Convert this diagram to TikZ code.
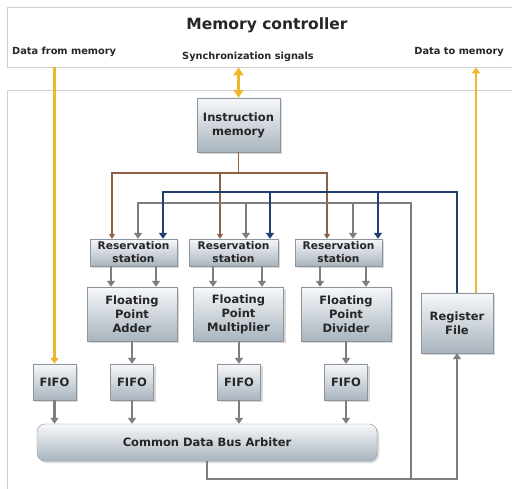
\documentclass[tikz,border=0pt]{standalone}
\usepackage{fontspec}
\setmainfont{DejaVu Sans}
\usetikzlibrary{arrows.meta,shadows}
\definecolor{boxtop}{HTML}{F6F8FA}
\definecolor{boxbot}{HTML}{A9B4BE}
\definecolor{boxline}{HTML}{8C959D}
\definecolor{frameline}{HTML}{CFCFCF}
\definecolor{goldline}{HTML}{F0B52A}
\definecolor{brownline}{HTML}{8E6044}
\definecolor{blueline}{HTML}{213F6F}
\definecolor{greyline}{HTML}{7E7E7E}
\tikzset{
    unit/.style={draw=boxline, top color=boxtop, bottom color=boxbot, drop shadow={opacity=0.3, shadow xshift=2pt, shadow yshift=-2pt}, align=center, inner sep=0pt, font=\fontsize{11.5}{14}\selectfont\bfseries, text=black!85},
    frame/.style={draw=frameline, fill=white, inner sep=0pt},
    caption/.style={font=\fontsize{9.8}{11}\selectfont\bfseries, text=black!85, inner sep=0pt},
    goldwire/.style={draw=goldline, line width=2.6pt, -{Triangle[width=8pt,length=6pt]}},
    brownwire/.style={draw=brownline, line width=1.6pt, -{Triangle[width=6pt,length=5pt]}},
    bluewire/.style={draw=blueline, line width=2.4pt, -{Triangle[width=8pt,length=6pt]}},
    greywire/.style={draw=greyline, line width=2.6pt, -{Triangle[width=8pt,length=6pt]}},
}
\begin{document}
\begin{tikzpicture}[x=1pt, y=-1pt]
    \useasboundingbox (0,0) rectangle (512,489);
    \node[frame, anchor=north west, minimum width=520pt, minimum height=60pt] (mcbox) at (7,7) {};
    \node[frame, anchor=north west, minimum width=520pt, minimum height=420pt] (lowbox) at (7,90) {};
    \node[font=\fontsize{15.5}{18}\selectfont\bfseries, text=black!85] (mctitle) at (267,25) {Memory controller};
    \node[caption, anchor=west] (fromlbl) at (12,52) {Data from memory};
    \node[caption] (synclbl) at (248,57) {Synchronization signals};
    \node[caption, anchor=east] (tolbl) at (504,52) {Data to memory};

    \node[unit, minimum width=83pt, minimum height=54pt] (im) at (238.5,125) {Instruction\\memory};
    \foreach \n/\x/\w in {1/133.5/87, 2/233.5/89, 3/338.5/87} {
        \node[unit, font=\fontsize{10.6}{13}\selectfont\bfseries, minimum width=\w pt, minimum height=27pt] (rs\n) at (\x,252.5) {Reservation\\station};
    };
    \foreach \n/\x/\t in {1/132/Adder, 2/238.5/Multiplier, 3/346/Divider} {
        \node[unit, minimum width=90pt, minimum height=54pt] (fp\n) at (\x,314) {Floating\\Point\\\t};
    };
    \foreach \n/\x in {0/54.5, 1/132, 2/239, 3/346} {
        \node[unit, minimum width=43pt, minimum height=36pt] (fifo\n) at (\x,382) {FIFO};
    };
    \node[unit, rounded corners=8pt, minimum width=340pt, minimum height=37pt] (cdb) at (207,442.5) {Common Data Bus Arbiter};
    \node[unit, minimum width=72pt, minimum height=60pt] (rf) at (457,323) {Register\\File};

    \draw[goldwire] (mcbox.south -| fifo0.north) -- (fifo0.north);
    \draw[goldwire] ([xshift=19pt]rf.north) -- ([xshift=19pt]rf.north |- mcbox.south);
    \draw[goldwire, {Triangle[width=10pt,length=8pt]}-{Triangle[width=10pt,length=8pt]}] (mcbox.south -| im.north) -- (im.north);

    \coordinate (brownbus) at (0,173);
    \coordinate (greybus) at (0,203);
    \coordinate (bluebus) at (0,192);
    \coordinate (greyfloor) at (0,479);
    \coordinate (greyrise) at (411,0);
    \draw[brownline, line width=1.6pt] (im.south) -- (im.south |- brownbus);
    \foreach \n/\dx in {1/-21.5, 2/-13.5, 3/-11.5} {
        \draw[brownwire] (im.south |- brownbus) -| ([xshift=\dx pt]rs\n.north);
    };
    \draw[greywire] (cdb.south) |- (greyfloor -| rf.south) -- (rf.south);
    \foreach \n/\dx in {1/4.5, 2/12.5, 3/14.5} {
        \draw[greywire] (greyrise |- greyfloor) |- ([xshift=\dx pt]rs\n.north |- greybus) -- ([xshift=\dx pt]rs\n.north);
    };
    \foreach \n/\dx in {1/29.5, 2/36.5, 3/39.5} {
        \draw[bluewire] (rf.north) |- ([xshift=\dx pt]rs\n.north |- bluebus) -- ([xshift=\dx pt]rs\n.north);
    };

    \foreach \n/\a/\b in {1/-22.5/22.5, 2/-20.5/28.5, 3/-18.5/27.5} {
        \draw[greywire] ([xshift=\a pt]rs\n.south) -- ([xshift=\a pt]rs\n.south |- fp\n.north);
        \draw[greywire] ([xshift=\b pt]rs\n.south) -- ([xshift=\b pt]rs\n.south |- fp\n.north);
    };
    \foreach \n in {1,2,3} {
        \draw[greywire] (fifo\n.north |- fp\n.south) -- (fifo\n.north);
    };
    \foreach \n in {0,...,3} {
        \draw[greywire] (fifo\n.south) -- (fifo\n.south |- cdb.north);
    };
\end{tikzpicture}
\end{document}
